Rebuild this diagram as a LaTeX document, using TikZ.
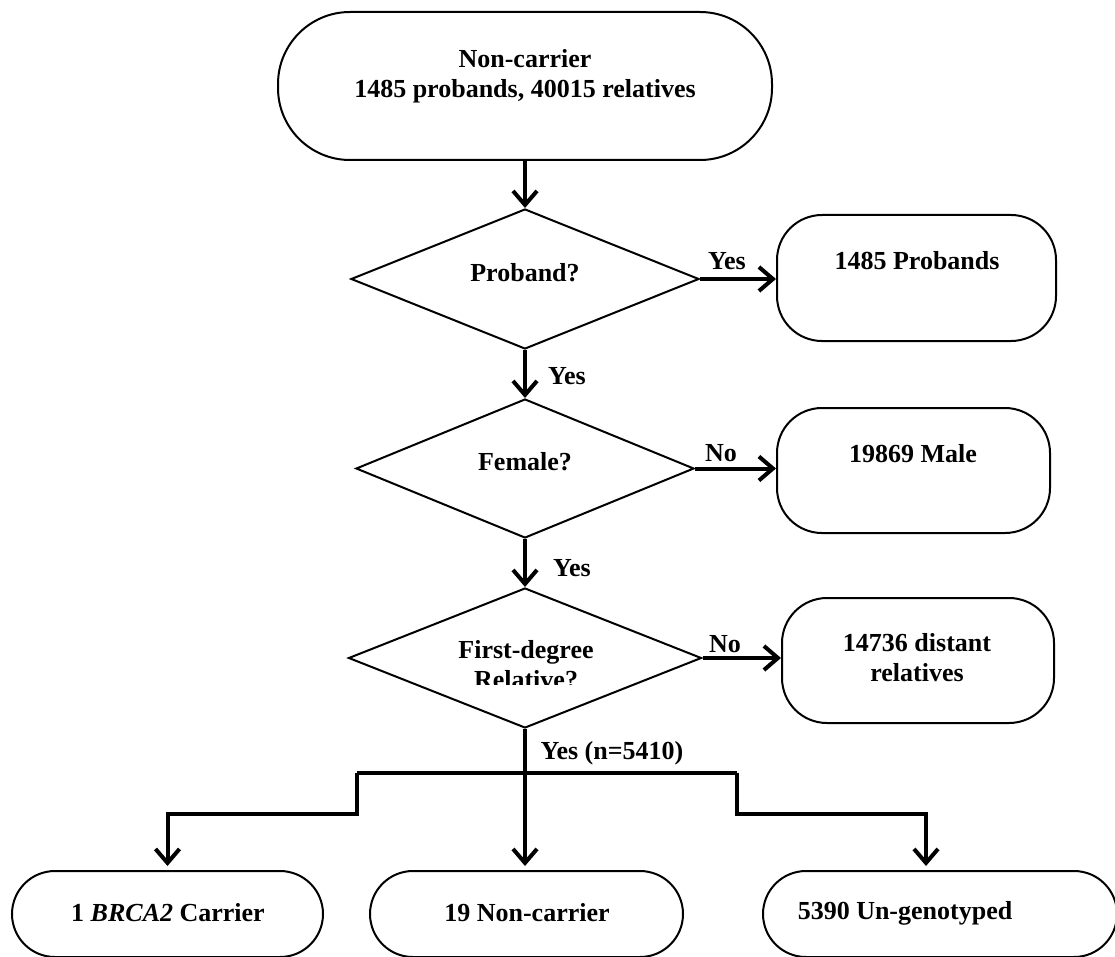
\documentclass[tikz,border=0pt]{standalone}
\usepackage{fontspec}
\setmainfont{Liberation Serif}
\usetikzlibrary{arrows.meta,shapes.geometric}
\begin{document}
\begin{tikzpicture}[x=1pt,y=-1pt,
  term/.style={draw, line width=2pt, rounded corners=45pt, inner sep=0pt},
  dia/.style={draw, diamond, line width=2pt, inner sep=0pt},
  lbl/.style={font=\bfseries\fontsize{26}{30}\selectfont, align=center, inner sep=0pt},
  conn/.style={line width=4pt},
  arr/.style={conn, -{Straight Barb[length=14pt,width=24pt]}}]
\useasboundingbox (0,0) rectangle (1115,957);
\clip (0,0) rectangle (1115,957);

% boxes
\node[term, rounded corners=72pt, minimum width=494pt, minimum height=148pt] (top) at (525,86) {};
\node[term, minimum width=279pt, minimum height=126pt] (probands) at (916.5,278) {};
\node[term, minimum width=273pt, minimum height=125pt] (male) at (913.5,470.5) {};
\node[term, minimum width=272pt, minimum height=125pt] (distant) at (918,660.5) {};
\node[term, rounded corners=43pt, minimum width=311pt, minimum height=86pt] (b1) at (167.5,914) {};
\node[term, rounded corners=43pt, minimum width=313pt, minimum height=86pt] (b2) at (526.5,914) {};
\node[term, rounded corners=43pt, minimum width=354pt, minimum height=86pt] (b3) at (940,914) {};

% diamonds
\node[dia, minimum width=348pt, minimum height=140pt] (d1) at (525,279) {};
\node[dia, minimum width=338pt, minimum height=139pt] (d2) at (525,468.5) {};
\node[dia, minimum width=353pt, minimum height=140pt] (d3) at (525,658) {};

% texts
\node[lbl] (ttop) at (525,76) {Non-carrier\\1485 probands, 40015 relatives};
\node[lbl] (tprob) at (917,261) {1485 Probands};
\node[lbl] (tmale) at (913,454) {19869 Male};
\node[lbl] (tdist) at (917,658) {14736 distant\\relatives};
\node[lbl] (tb1) at (168,913) {1 \textit{BRCA2} Carrier};
\node[lbl] (tb2) at (527,913) {19 Non-carrier};
\node[lbl] (tb3) at (905,913) {5390 Un-genotyped};
\node[lbl] (td1) at (525,273) {Proband?};
\node[lbl] (td2) at (525,462) {Female?};
\begin{scope}
  \clip (350,600) rectangle (703,684);
  \node[lbl] (td3) at (526,665) {First-degree\\Relative?};
\end{scope}

% connectors
\draw[arr] (top.south) -- (d1.north);
\draw[arr] (d1.east) -- (d1.east -| probands.west);
\draw[arr] (d1.south) -- (d2.north);
\draw[arr] (d2.east) -- (d2.east -| male.west);
\draw[arr] (d2.south) -- (d3.north);
\draw[arr] (d3.east) -- (d3.east -| distant.west);

\coordinate (split) at (525,773);
\coordinate (jl) at (357,773);
\coordinate (jr) at (737,773);
\draw[conn] (d3.south) -- (split);
\draw[conn] (jl) -- (jr);
\draw[arr, shorten >=4pt] (split) -- (split |- b2.north);
\draw[arr, shorten >=4pt] (jl) -- ++(0,41) -| (b1.north);
\draw[arr, shorten >=4pt] (jr) -- ++(0,41) -| ([xshift=-14pt]b3.north);

% edge labels
\node[lbl] (l1) at (727,261) {Yes};
\node[lbl] (l2) at (567,376) {Yes};
\node[lbl] (l3) at (721,453) {No};
\node[lbl] (l4) at (572,568) {Yes};
\node[lbl] (l5) at (725,644) {No};
\node[lbl] (l6) at (612,753) {Yes (n=5410)};
\end{tikzpicture}
\end{document}
